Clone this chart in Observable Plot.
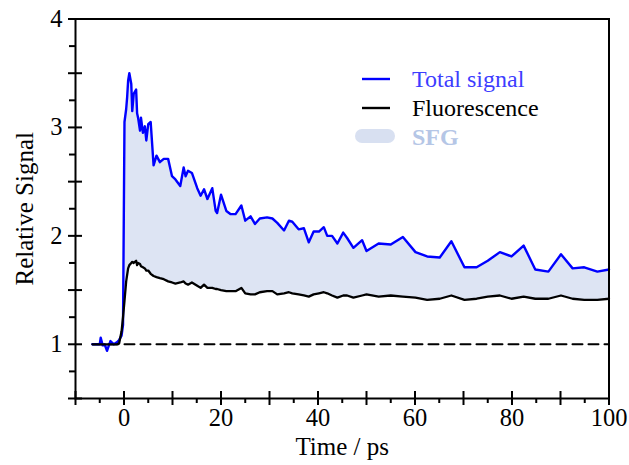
<!DOCTYPE html>
<html>
<head>
<meta charset="utf-8">
<script src="https://cdn.jsdelivr.net/npm/d3@7"></script>
<script src="https://cdn.jsdelivr.net/npm/@observablehq/plot@0.6"></script>
<style>
  body { margin: 0; background: #fff; }
  #wrap { position: relative; width: 629px; height: 465px; font-family: "Liberation Serif", "DejaVu Serif", serif; }
  #wrap svg, #wrap svg text { font-family: "Liberation Serif", "DejaVu Serif", serif !important; }
  #legend { position: absolute; left: 0; top: 0; pointer-events: none; }
</style>
</head>
<body>
<div id="wrap"></div>
<script>
// ---- data ----
const time = [-6.5, -5.5, -5.0, -4.8, -4.4, -4.0, -3.5, -2.8, -2.1, -1.4, -1.0, -0.5, -0.2,
  0.1, 0.45, 0.65, 0.85, 1.1, 1.5, 1.7, 2.0, 2.5, 2.7, 2.9, 3.3, 3.5, 3.9, 4.3, 4.6, 5.0, 5.5,
  6.1, 6.7, 7.4, 8.2, 9.1, 9.9, 10.6, 11.6, 12.3, 12.7, 13.2, 14.0, 15.1, 15.8, 16.5, 17.2,
  18.2, 18.9, 19.2, 20.0, 21.1, 22.0, 23.0, 24.2, 25.0, 26.1, 27.0, 28.0, 29.5, 30.6, 31.6,
  33.0, 34.0, 34.7, 36.0, 37.1, 38.1, 39.1, 40.2, 41.2, 41.9, 42.9, 44.0, 45.2, 46.0, 47.3,
  49.1, 50.0, 52.5, 55.0, 57.5, 60.1, 62.5, 65.1, 67.5, 70.2, 72.7, 75.0, 77.5, 79.9, 82.4,
  84.8, 87.5, 90.1, 92.5, 94.9, 97.6, 100.0];
const totalSignal = [1.00, 1.00, 1.00, 1.06, 0.99, 1.00, 0.94, 1.03, 1.00, 1.02, 1.04, 1.08, 1.18,
  3.05, 3.17, 3.28, 3.43, 3.50, 3.40, 3.15, 3.31, 3.35, 3.13, 3.09, 2.97, 3.09, 2.95, 3.01, 2.88, 3.03, 3.05,
  2.65, 2.74, 2.68, 2.71, 2.71, 2.55, 2.52, 2.46, 2.63, 2.55, 2.60, 2.58, 2.44, 2.37, 2.43, 2.34,
  2.44, 2.23, 2.21, 2.38, 2.23, 2.20, 2.20, 2.28, 2.14, 2.18, 2.11, 2.16, 2.17, 2.16, 2.12,
  2.05, 2.14, 2.13, 2.06, 2.07, 1.94, 2.04, 2.04, 2.08, 2.00, 2.00, 1.93, 2.03, 1.98, 1.89,
  1.96, 1.86, 1.93, 1.92, 1.99, 1.85, 1.81, 1.80, 1.95, 1.71, 1.71, 1.77, 1.85, 1.81, 1.91,
  1.69, 1.67, 1.83, 1.70, 1.71, 1.67, 1.69];
const fluorescence = [1.00, 1.00, 1.00, 1.00, 1.00, 1.00, 1.00, 1.00, 1.00, 1.00, 1.01, 1.12, 1.25,
  1.40, 1.58, 1.64, 1.70, 1.73, 1.75, 1.76, 1.75, 1.77, 1.73, 1.75, 1.74, 1.72, 1.71, 1.70, 1.68, 1.68, 1.65,
  1.63, 1.62, 1.61, 1.60, 1.58, 1.57, 1.56, 1.57, 1.58, 1.56, 1.55, 1.57, 1.54, 1.52, 1.55, 1.52,
  1.52, 1.51, 1.51, 1.50, 1.49, 1.49, 1.49, 1.52, 1.47, 1.46, 1.46, 1.48, 1.49, 1.49, 1.46,
  1.47, 1.48, 1.47, 1.46, 1.45, 1.44, 1.46, 1.47, 1.48, 1.47, 1.45, 1.43, 1.45, 1.45, 1.43,
  1.45, 1.46, 1.44, 1.45, 1.44, 1.43, 1.41, 1.42, 1.45, 1.41, 1.42, 1.44, 1.45, 1.42, 1.44,
  1.42, 1.42, 1.45, 1.42, 1.41, 1.41, 1.42];
const baselineValue = 1;
const xTickLabels = [0, 20, 40, 60, 80, 100];
const yTickLabels = [1, 2, 3, 4];
const xMajorTicks = [-10, 0, 10, 20, 30, 40, 50, 60, 70, 80, 90, 100];
const xMinorTicks = [-5, 5, 15, 25, 35, 45, 55, 65, 75, 85, 95];
const yMajorTicks = [0.5, 1, 1.5, 2, 2.5, 3, 3.5, 4];
const yMinorTicks = [0.75, 1.25, 1.75, 2.25, 2.75, 3.25, 3.75];
const legendLabels = ["Total signal", "Fluorescence", "SFG"];
const xLabel = "Time / ps";
const yLabel = "Relative Signal";

// ---- build table ----
const rows = time.map((t, i) => ({t, total: totalSignal[i], fl: fluorescence[i]}));
const baseline = [{t: time[0], v: baselineValue}, {t: time[time.length - 1], v: baselineValue}];

const W = 629, H = 465, mL = 75, mR = 20.5, mT = 18.5, mB = 67;
const pw = W - mL - mR, ph = H - mT - mB;
const FONT = '"Liberation Serif", "DejaVu Serif", serif';
const FS = 24.5;
const FT = 25;

const chart = Plot.plot({
  width: W, height: H,
  marginLeft: mL, marginRight: mR, marginTop: mT, marginBottom: mB,
  style: {fontFamily: FONT, background: "#fff", color: "#000"},
  x: {domain: [-10, 100]},
  y: {domain: [0.5, 4]},
  marks: [
    Plot.areaY(rows, {x: "t", y1: "fl", y2: "total", fill: "#dde4f3", curve: "linear"}),
    Plot.lineY(baseline, {x: "t", y: "v", stroke: "#000", strokeWidth: 2, strokeDasharray: "10,6"}),
    Plot.lineY(rows, {x: "t", y: "total", stroke: "#0000ff", strokeWidth: 2.4, strokeLinejoin: "round"}),
    Plot.lineY(rows, {x: "t", y: "fl", stroke: "#000", strokeWidth: 2.3, strokeLinejoin: "round"}),
    Plot.frame({stroke: "#000", strokeWidth: 2}),
    // ticks
    Plot.ruleX(xMajorTicks, {x: d => d, insetTop: ph - 7, insetBottom: -7, stroke: "#000", strokeWidth: 2}),
    Plot.ruleX(xMinorTicks, {x: d => d, insetTop: ph, insetBottom: -5, stroke: "#000", strokeWidth: 2}),
    Plot.ruleY(yMajorTicks, {y: d => d, insetLeft: -7, insetRight: pw - 7, stroke: "#000", strokeWidth: 2}),
    Plot.ruleY(yMinorTicks, {y: d => d, insetLeft: -6, insetRight: pw, stroke: "#000", strokeWidth: 2}),
    // tick labels
    Plot.axisX({ticks: xTickLabels, tickSize: 0, tickPadding: 10.5, fontSize: FS, label: null, tickFormat: d => String(d)}),
    Plot.axisY({ticks: yTickLabels, tickSize: 0, tickPadding: 13, fontSize: FS, label: null, tickFormat: d => String(d)}),
    // axis titles
    Plot.text([xLabel], {text: d => d, frameAnchor: "bottom", textAnchor: "middle", dy: 56, fontSize: FT, fill: "#000"}),
    Plot.text([yLabel], {text: d => d, frameAnchor: "left", textAnchor: "middle", dx: -51, rotate: -90, fontSize: FT, fill: "#000"})
  ]
});

const wrap = document.getElementById("wrap");
wrap.appendChild(chart);

// ---- legend overlay ----
const leg = d3.select(wrap).append("svg").attr("id", "legend").attr("width", W).attr("height", H);
const legendStyle = [
  {kind: "line", color: "#0000ff", textColor: "#3d3dff", weight: "normal"},
  {kind: "line", color: "#000", textColor: "#000", weight: "normal"},
  {kind: "swatch", color: "#d8e0f1", textColor: "#b5c6e6", weight: "bold"}
];
const legX0 = 362, legX1 = 390, legTextX = 412, legY0 = 79, legDY = 29;
legendLabels.forEach((label, i) => {
  const s = legendStyle[i];
  const cy = legY0 + i * legDY;
  if (s.kind === "line") {
    leg.append("line").attr("x1", legX0).attr("x2", legX1).attr("y1", cy).attr("y2", cy)
      .attr("stroke", s.color).attr("stroke-width", 2.4);
  } else {
    leg.append("rect").attr("x", 355).attr("y", cy - 8).attr("width", 40).attr("height", 14)
      .attr("rx", 7).attr("fill", s.color);
  }
  leg.append("text").attr("x", legTextX).attr("y", cy + 7.5).attr("fill", s.textColor)
    .attr("font-size", 24).attr("font-weight", s.weight).text(label);
});
</script>
</body>
</html>
